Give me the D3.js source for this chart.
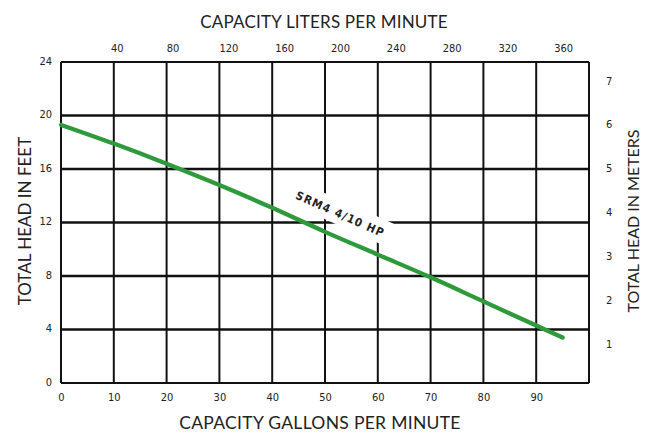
<!DOCTYPE html>
<html>
<head>
<meta charset="utf-8">
<script src="https://cdn.jsdelivr.net/npm/d3@7"></script>
<style>
  body { margin: 0; background: #fff; }
  svg { display: block; }
  text { font-family: Lato, "Open Sans", sans-serif; fill: #222; }
</style>
</head>
<body>
<div class="chart"></div>
<script>
// pump curve
var gpm = [0, 10, 20, 30, 40, 50, 60, 70, 80, 90, 95];
var headFeet = [19.3, 17.9, 16.4, 14.8, 13.1, 11.3, 9.6, 7.9, 6.1, 4.3, 3.4];
var gpmTicks = [0, 10, 20, 30, 40, 50, 60, 70, 80, 90];
var literTicks = [40, 80, 120, 160, 200, 240, 280, 320, 360];
var feetTicks = [0, 4, 8, 12, 16, 20, 24];
var meterTicks = [1, 2, 3, 4, 5, 6, 7];
var curveLabel = "SRM4 4/10 HP";

var svgWidth = 648;
var svgHeight = 436;
var margin = { top: 62, right: 59, bottom: 53, left: 61 };
var width = svgWidth - margin.left - margin.right;
var height = svgHeight - margin.top - margin.bottom;

var svg = d3.select(".chart")
  .append("svg")
  .attr("width", svgWidth)
  .attr("height", svgHeight);

var chartGroup = svg.append("g")
  .attr("transform", `translate(${margin.left}, ${margin.top})`);

// scales
var xScale = d3.scaleLinear().domain([0, 100]).range([0, width]);
var xLiters = d3.scaleLinear().domain([0, 100 * 3.785]).range([0, width]);
var yScale = d3.scaleLinear().domain([0, 24]).range([height, 0]);
var yMeters = d3.scaleLinear().domain([0, 24 / 3.2808]).range([height, 0]);

// grid
chartGroup.append("g")
  .selectAll("line")
  .data(gpmTicks.concat([100]))
  .enter()
  .append("line")
  .attr("x1", d => xScale(d))
  .attr("x2", d => xScale(d))
  .attr("y1", 0)
  .attr("y2", height)
  .attr("stroke", "#111")
  .attr("stroke-width", 2);

chartGroup.append("g")
  .selectAll("line")
  .data(feetTicks)
  .enter()
  .append("line")
  .attr("x1", 0)
  .attr("x2", width)
  .attr("y1", d => yScale(d))
  .attr("y2", d => yScale(d))
  .attr("stroke", "#111")
  .attr("stroke-width", d => (d == 0 || d == 24) ? 2 : 2.6);

// axes (labels only, the grid does the lines)
var bottomAxis = d3.axisBottom(xScale).tickValues(gpmTicks).tickSize(0).tickPadding(10);
var topAxis = d3.axisTop(xLiters).tickValues(literTicks).tickSize(0).tickPadding(10);
var leftAxis = d3.axisLeft(yScale).tickValues(feetTicks).tickSize(0).tickPadding(9);
var rightAxis = d3.axisRight(yMeters).tickValues(meterTicks).tickSize(0).tickPadding(17);

function styleAxis(g) {
  g.select(".domain").remove();
  g.selectAll("text")
    .style("font-family", "'Liberation Sans Narrow', 'DejaVu Sans Condensed', sans-serif")
    .style("font-size", "11px")
    .attr("fill", "#333");
}

chartGroup.append("g")
  .attr("transform", `translate(0, ${height})`)
  .call(bottomAxis)
  .call(styleAxis);

chartGroup.append("g")
  .call(topAxis)
  .call(styleAxis);

chartGroup.append("g")
  .call(leftAxis)
  .call(styleAxis)
  .selectAll("text").attr("dy", "0.2em");

chartGroup.append("g")
  .attr("transform", `translate(${width}, 0)`)
  .call(rightAxis)
  .call(styleAxis)
  .selectAll("text").attr("dy", "0.75em");

// label for the curve, white box knocks out the grid behind it
var labelGroup = chartGroup.append("g")
  .attr("transform", `translate(${xScale(52.6)}, ${yScale(12.35)}) rotate(24)`);

var labelBox = labelGroup.append("rect")
  .attr("fill", "#fff");

var labelText = labelGroup.append("text")
  .attr("text-anchor", "middle")
  .style("font-family", "'Liberation Sans Narrow', 'DejaVu Sans Condensed', sans-serif")
  .style("font-size", "11.5px")
  .style("font-weight", "bold")
  .style("letter-spacing", "1.2px")
  .attr("fill", "#2a2a2a")
  .text(curveLabel);

var bb = labelText.node().getBBox();
labelBox
  .attr("x", bb.x - 7)
  .attr("y", bb.y - 6)
  .attr("width", bb.width + 14)
  .attr("height", bb.height + 10);

// pump curve
var line = d3.line()
  .x((d, i) => xScale(gpm[i]))
  .y(d => yScale(d))
  .curve(d3.curveMonotoneX);

chartGroup.append("path")
  .datum(headFeet)
  .attr("d", line)
  .attr("fill", "none")
  .attr("stroke", "#2f9a3c")
  .attr("stroke-width", 4.3)
  .attr("stroke-linecap", "round");

// axis titles
svg.append("text")
  .attr("x", 324)
  .attr("y", 28)
  .attr("text-anchor", "middle")
  .style("font-size", "17px")
  .style("letter-spacing", "0.2px")
  .text("CAPACITY LITERS PER MINUTE");

svg.append("text")
  .attr("x", 320)
  .attr("y", 429)
  .attr("text-anchor", "middle")
  .style("font-size", "17.5px")
  .style("letter-spacing", "0.3px")
  .text("CAPACITY GALLONS PER MINUTE");

svg.append("text")
  .attr("transform", `translate(31, 221) rotate(-90)`)
  .attr("text-anchor", "middle")
  .style("font-size", "17px")
  .text("TOTAL HEAD IN FEET");

svg.append("text")
  .attr("transform", `translate(639, 221) rotate(-90)`)
  .attr("text-anchor", "middle")
  .style("font-size", "16px")
  .text("TOTAL HEAD IN METERS");
</script>
</body>
</html>
